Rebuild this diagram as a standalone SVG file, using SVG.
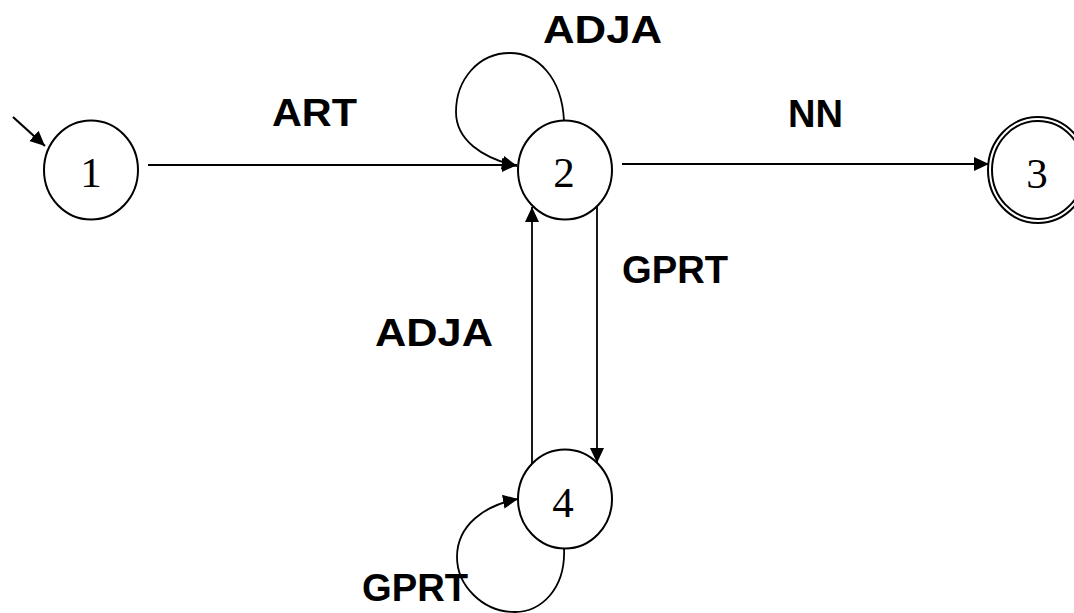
<svg xmlns="http://www.w3.org/2000/svg" width="1074" height="613" viewBox="0 0 1074 613">
<style>
.node{fill:#fff;stroke:#000;stroke-width:2}
.num{font-family:"Liberation Serif","Times New Roman",serif;font-size:43px;text-anchor:middle;fill:#000}
.lbl{font-family:"Liberation Sans",Arial,sans-serif;font-weight:bold;font-size:39px;fill:#000}
.edge{fill:none;stroke:#000;stroke-width:1.8;marker-end:url(#arr)}
</style>
<defs>
<marker id="arr" markerUnits="userSpaceOnUse" markerWidth="17" markerHeight="16" refX="15" refY="7" orient="auto">
<path d="M0,0 L15,7 L0,14 z" fill="#000"/>
</marker>
</defs>
<g id="connectors">
<line class="edge" x1="13" y1="117" x2="45" y2="146" style="stroke-width:2.2"/>
<line class="edge" x1="148" y1="165" x2="517" y2="165"/>
<line class="edge" x1="622" y1="164" x2="989" y2="164"/>
<path class="edge" d="M564,121 C562,77 537,53 510,53 C478,53 456,80 456,112 C456,140 482,158 517,166"/>
<line class="edge" x1="597" y1="206" x2="597" y2="463"/>
<line class="edge" x1="532" y1="464" x2="532" y2="207"/>
<path class="edge" d="M564,548 C566,590 540,612 515,612 C482,612 457,585 457,557 C457,525 485,505 518,499"/>
</g>
<g id="node1"><ellipse class="node" cx="91" cy="170" rx="47" ry="49.5"/><text class="num" x="91" y="187">1</text></g>
<g id="node2"><ellipse class="node" cx="565" cy="170" rx="47" ry="49.5"/><text class="num" x="564" y="187">2</text></g>
<g id="node3"><ellipse class="node" cx="1038" cy="170" rx="50" ry="53"/><ellipse class="node" cx="1038" cy="170" rx="46" ry="49"/><text class="num" x="1037" y="188">3</text></g>
<g id="node4"><ellipse class="node" cx="565" cy="499" rx="47" ry="49.5"/><text class="num" x="563" y="517">4</text></g>
<g id="labels">
<text class="lbl" x="272" y="126" textLength="85" lengthAdjust="spacingAndGlyphs">ART</text>
<text class="lbl" x="543" y="43" textLength="119" lengthAdjust="spacingAndGlyphs">ADJA</text>
<text class="lbl" x="788" y="127" textLength="55" lengthAdjust="spacingAndGlyphs">NN</text>
<text class="lbl" x="622" y="283" textLength="106" lengthAdjust="spacingAndGlyphs">GPRT</text>
<text class="lbl" x="375" y="346" textLength="118" lengthAdjust="spacingAndGlyphs">ADJA</text>
<text class="lbl" x="362" y="601" textLength="106" lengthAdjust="spacingAndGlyphs">GPRT</text>
</g>
</svg>
